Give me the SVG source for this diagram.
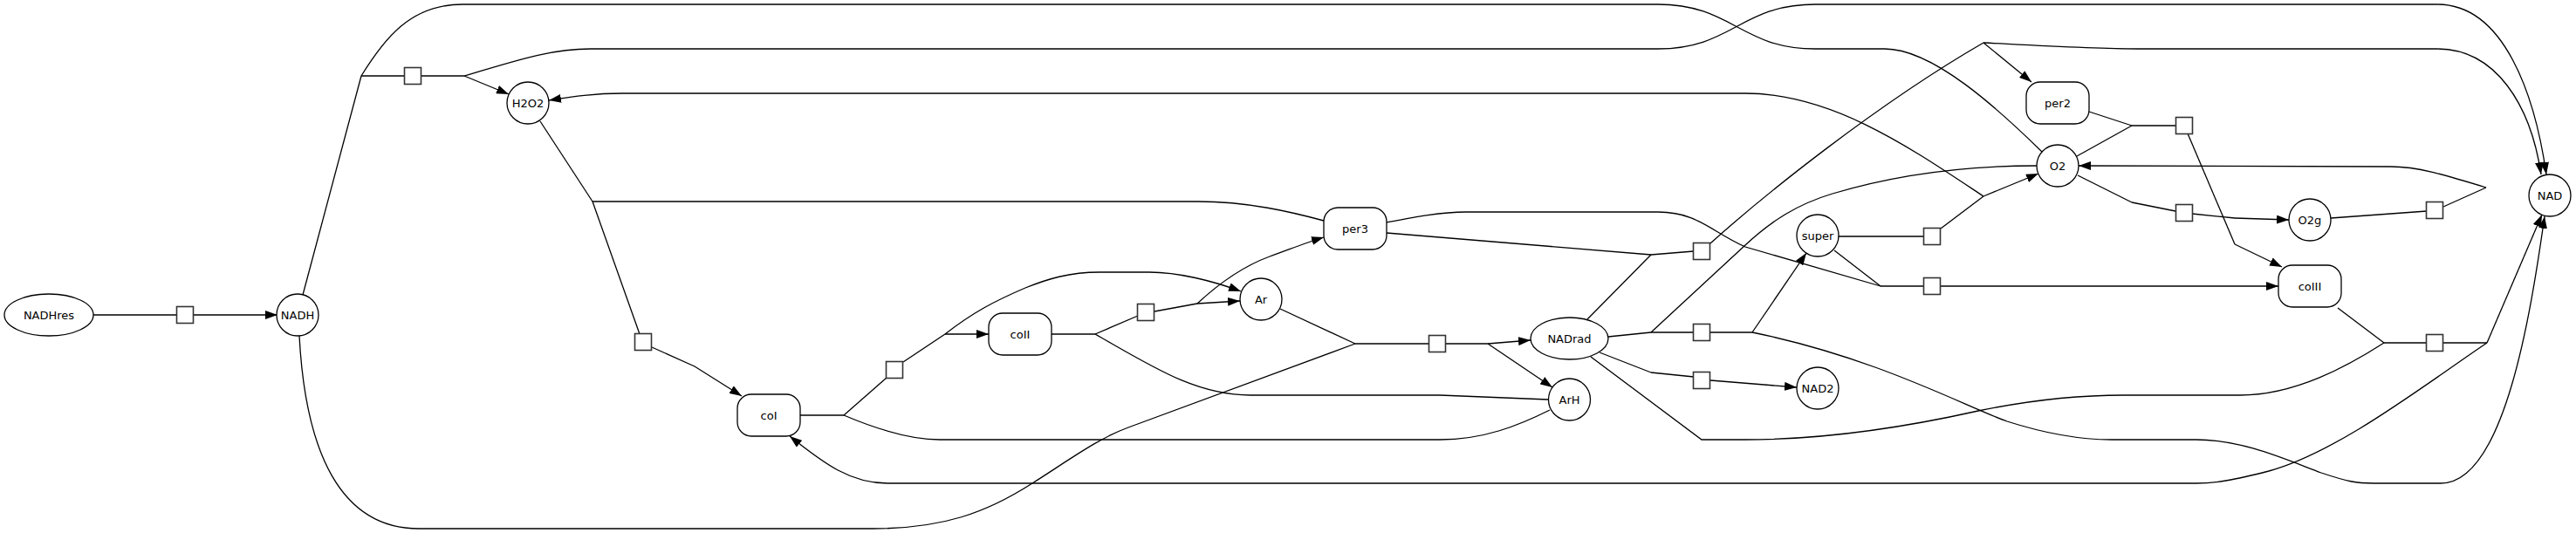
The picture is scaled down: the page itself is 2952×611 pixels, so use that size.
<svg xmlns="http://www.w3.org/2000/svg" width="2952" height="611" viewBox="0 0 2952 611">
<style>
.n{fill:#fff;stroke:#000;stroke-width:1.3}
.r{fill:#fff;stroke:#333;stroke-width:1.6}
.t{font-family:"DejaVu Sans","Liberation Sans",sans-serif;font-size:13px;text-anchor:middle;fill:#000}
#connectors path{fill:none;stroke:#000;stroke-width:1.3}
#connectors path.a{marker-end:url(#arr)}
</style>
<defs>
<marker id="arr" markerWidth="14" markerHeight="10" refX="14" refY="5" orient="auto" markerUnits="userSpaceOnUse"><path d="M0,0 L14,5 L0,10 z" fill="#000"/></marker>
</defs>
<rect width="2952" height="611" fill="#fff"/>
<g id="connectors">
<path d="M107,361 L202,361"/>
<path class="a" d="M221,361 L318,361"/>
<path d="M347,338 L414,87"/>
<path d="M414,87 L464,87"/>
<path d="M414,87 C440,45 470,5 530,5 L1900,5 C1985,5 1995,56 2080,56 L2160,56 C2215,56 2290,125 2340,174"/>
<path d="M483,87 L532,87"/>
<path class="a" d="M532,87 L583,108"/>
<path class="a" d="M532,87 C590,70 630,56 677,56 L1900,56 C1985,56 1995,5 2080,5 L2793,5 C2870,5 2905,110 2918,200"/>
<path d="M619,139 L679,231"/>
<path d="M679,231 L1373,231 C1430,231 1480,243 1517,253"/>
<path d="M679,231 L733,383"/>
<path class="a" d="M747,398 L796,420 L850,454"/>
<path d="M917,476 L967,476"/>
<path d="M967,476 L1016,433"/>
<path d="M967,476 C1000,490 1040,504 1077,504 L1650,504 C1700,504 1740,488 1776,470"/>
<path d="M1035,415 L1083,383"/>
<path class="a" d="M1083,383 L1133,383"/>
<path class="a" d="M1083,383 C1115,358 1140,345 1175,330 C1200,320 1225,312 1260,312 L1317,312 C1350,312 1390,322 1422,334"/>
<path d="M1205,383 L1255,383"/>
<path d="M1255,383 L1304,362"/>
<path d="M1255,383 C1320,420 1370,453 1433,453 L1650,453 L1774,458"/>
<path d="M1323,357 L1372,348"/>
<path class="a" d="M1372,348 L1421,345"/>
<path class="a" d="M1372,348 C1400,322 1425,305 1455,294 C1480,285 1500,277 1517,272"/>
<path d="M1467,354 L1553,394"/>
<path d="M343,385 C350,518 390,606 480,606 L1000,606 C1080,606 1130,588 1183,554 C1230,524 1260,502 1293,490 L1553,394"/>
<path d="M1553,394 L1637,394"/>
<path d="M1656,394 L1705,394"/>
<path class="a" d="M1705,394 L1754,390"/>
<path class="a" d="M1705,394 L1779,444"/>
<path d="M1819,366 L1892,292"/>
<path d="M1589,267 L1892,292 L1941,288"/>
<path d="M1589,255 C1620,249 1650,243 1680,243 L1900,243 C1945,243 1960,265 2000,283 L2155,328"/>
<path d="M2102,287 L2155,328"/>
<path d="M2155,328 L2205,328"/>
<path class="a" d="M2224,328 L2611,328"/>
<path d="M1960,279 C2020,225 2150,120 2273,49"/>
<path class="a" d="M2273,49 L2328,94"/>
<path class="a" d="M2273,49 C2350,53 2400,56 2450,56 L2793,56 C2860,56 2900,120 2912,200"/>
<path d="M1843,386 L1892,381"/>
<path d="M1892,381 L1941,381"/>
<path d="M1892,381 L2000,281 C2030,253 2060,234 2100,222 C2180,198 2260,190 2334,190"/>
<path d="M1960,381 L2008,381"/>
<path class="a" d="M2008,381 L2070,290"/>
<path class="a" d="M2008,381 C2150,410 2250,465 2300,483 C2350,499 2390,504 2420,504 L2517,504 C2570,504 2620,527 2660,542 C2690,552 2700,554 2720,554 L2797,554 C2870,554 2900,360 2916,248"/>
<path d="M1833,404 L1892,427"/>
<path d="M1892,427 L1941,432"/>
<path class="a" d="M1960,436 L2059,444"/>
<path d="M1823,409 L1950,504 L2000,504 C2100,504 2200,486 2267,471 C2330,458 2380,453 2433,453 L2567,453 C2630,453 2690,420 2732,393"/>
<path d="M2679,353 L2732,393"/>
<path d="M2732,393 L2781,393"/>
<path d="M2800,393 L2850,393"/>
<path class="a" d="M2850,393 L2913,246"/>
<path class="a" d="M2850,393 C2780,440 2680,518 2600,540 C2560,550 2540,554 2517,554 L1017,554 C975,554 945,532 905,500"/>
<path d="M2107,271 L2205,271"/>
<path d="M2224,262 L2273,225"/>
<path class="a" d="M2273,225 L2336,199"/>
<path class="a" d="M2273,225 C2190,170 2100,107 2000,107 L713,107 C680,107 655,111 629,115"/>
<path d="M2394,128 L2443,144"/>
<path d="M2380,179 L2443,144"/>
<path d="M2443,144 L2493,144"/>
<path d="M2507,153 L2561,280"/>
<path class="a" d="M2561,280 L2615,306"/>
<path d="M2381,201 L2443,232"/>
<path d="M2443,232 L2493,242"/>
<path d="M2512,245 L2561,250"/>
<path class="a" d="M2561,250 L2623,252"/>
<path d="M2671,250 L2781,242"/>
<path d="M2800,237 L2849,215"/>
<path class="a" d="M2849,215 C2800,200 2770,191 2740,191 L2382,190"/>
</g>
<g id="NADHres"><ellipse class="n" cx="56" cy="361" rx="51" ry="24"/><text class="t" x="56" y="366">NADHres</text></g>
<g id="NADH"><circle class="n" cx="341" cy="361" r="24"/><text class="t" x="341" y="366">NADH</text></g>
<g id="H2O2"><circle class="n" cx="605" cy="118" r="24"/><text class="t" x="605" y="123">H2O2</text></g>
<g id="coI"><rect class="n" x="845" y="452" width="72" height="48" rx="16"/><text class="t" x="881" y="481">coI</text></g>
<g id="coII"><rect class="n" x="1133" y="359" width="72" height="48" rx="16"/><text class="t" x="1169" y="388">coII</text></g>
<g id="Ar"><circle class="n" cx="1445" cy="343" r="24"/><text class="t" x="1445" y="348">Ar</text></g>
<g id="per3"><rect class="n" x="1517" y="238" width="72" height="48" rx="16"/><text class="t" x="1553" y="267">per3</text></g>
<g id="NADrad"><ellipse class="n" cx="1798.5" cy="388" rx="44.5" ry="24"/><text class="t" x="1798.5" y="393">NADrad</text></g>
<g id="ArH"><circle class="n" cx="1798.5" cy="458" r="24"/><text class="t" x="1798.5" y="463">ArH</text></g>
<g id="super"><circle class="n" cx="2083" cy="270" r="24"/><text class="t" x="2083" y="275">super</text></g>
<g id="NAD2"><circle class="n" cx="2083" cy="445" r="24"/><text class="t" x="2083" y="450">NAD2</text></g>
<g id="O2"><circle class="n" cx="2358" cy="190" r="24"/><text class="t" x="2358" y="195">O2</text></g>
<g id="per2"><rect class="n" x="2322" y="94" width="72" height="48" rx="16"/><text class="t" x="2358" y="123">per2</text></g>
<g id="O2g"><circle class="n" cx="2647" cy="252" r="24"/><text class="t" x="2647" y="257">O2g</text></g>
<g id="coIII"><rect class="n" x="2611" y="304" width="72" height="48" rx="16"/><text class="t" x="2647" y="333">coIII</text></g>
<g id="NAD"><circle class="n" cx="2922" cy="224" r="24"/><text class="t" x="2922" y="229">NAD</text></g>
<g id="r1"><rect class="r" x="202.5" y="351.5" width="19" height="19"/></g>
<g id="r2"><rect class="r" x="463.5" y="77.5" width="19" height="19"/></g>
<g id="r3"><rect class="r" x="727.5" y="382.5" width="19" height="19"/></g>
<g id="r4"><rect class="r" x="1015.5" y="414.5" width="19" height="19"/></g>
<g id="r5"><rect class="r" x="1303.5" y="348.5" width="19" height="19"/></g>
<g id="r6"><rect class="r" x="1637.5" y="384.5" width="19" height="19"/></g>
<g id="r7"><rect class="r" x="1940.5" y="278.5" width="19" height="19"/></g>
<g id="r8"><rect class="r" x="1940.5" y="371.5" width="19" height="19"/></g>
<g id="r9"><rect class="r" x="1940.5" y="426.5" width="19" height="19"/></g>
<g id="r10"><rect class="r" x="2204.5" y="261.5" width="19" height="19"/></g>
<g id="r11"><rect class="r" x="2204.5" y="318.5" width="19" height="19"/></g>
<g id="r12"><rect class="r" x="2493.5" y="134.5" width="19" height="19"/></g>
<g id="r13"><rect class="r" x="2493.5" y="234.5" width="19" height="19"/></g>
<g id="r14"><rect class="r" x="2780.5" y="231.5" width="19" height="19"/></g>
<g id="r15"><rect class="r" x="2780.5" y="383.5" width="19" height="19"/></g>
</svg>
